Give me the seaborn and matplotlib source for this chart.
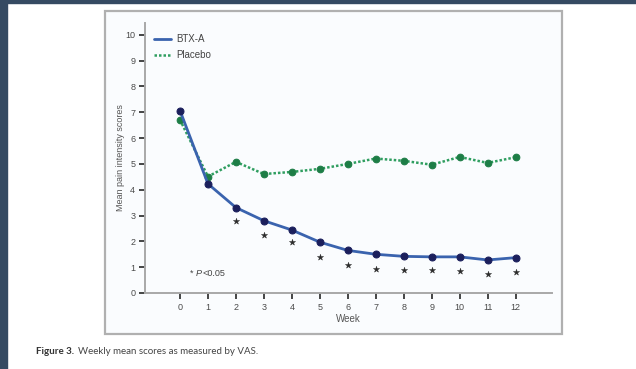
import matplotlib
matplotlib.use("Agg")
import matplotlib.pyplot as plt
from matplotlib.patches import Rectangle
from matplotlib.lines import Line2D
import seaborn as sns
import pandas as pd

weeks = [0, 1, 2, 3, 4, 5, 6, 7, 8, 9, 10, 11, 12]
btx_a = [7.07, 4.23, 3.31, 2.80, 2.44, 1.97, 1.65, 1.50, 1.42, 1.40, 1.40, 1.28, 1.37]
placebo = [6.71, 4.51, 5.08, 4.61, 4.69, 4.81, 5.00, 5.21, 5.12, 4.97, 5.27, 5.04, 5.26]
sig_weeks = [2, 3, 4, 5, 6, 7, 8, 9, 10, 11, 12]
sig_marks = [2.78, 2.23, 1.96, 1.40, 1.09, 0.92, 0.88, 0.91, 0.85, 0.73, 0.83]
y_ticks = [0, 1, 2, 3, 4, 5, 6, 7, 8, 9, 10]

sns.set_theme(style="white")
plt.rcParams["font.family"] = ["Liberation Sans", "DejaVu Sans"]

W, H = 636, 369
fig = plt.figure(figsize=(W / 100, H / 100), dpi=100)
fig.patch.set_facecolor("white")

# page border strips and the figure frame, kept behind the axes
border = "#354a62"
fig.patches.append(Rectangle((0, 0), 7 / W, 1, transform=fig.transFigure, color=border, zorder=-5))
fig.patches.append(Rectangle((0, 1 - 3 / H), 1, 3 / H, transform=fig.transFigure, color=border, zorder=-5))
fig.patches.append(Rectangle((105 / W, 1 - 334 / H), (562 - 105) / W, (334 - 11) / H,
                             transform=fig.transFigure, facecolor="#fafcfe",
                             edgecolor="#b0b0b0", linewidth=1.6, zorder=-5))

ax = fig.add_axes([145 / W, 1 - 293 / H, (552 - 145) / W, (293 - 23) / H])
ax.set_zorder(2)
ax.set_facecolor("none")

df_btx = pd.DataFrame({"Week": weeks, "Score": btx_a})
df_pla = pd.DataFrame({"Week": weeks, "Score": placebo})
df_sig = pd.DataFrame({"Week": sig_weeks, "Mark": sig_marks})

sns.lineplot(data=df_pla, x="Week", y="Score", ax=ax, color="#2f9e60", linewidth=1.8,
             linestyle=(0, (1, 0.8)), marker="o", markersize=4.8,
             markerfacecolor="#1d7d46", markeredgecolor="#1d7d46", zorder=3)
sns.lineplot(data=df_btx, x="Week", y="Score", ax=ax, color="#3a63ae", linewidth=2.0,
             marker="o", markersize=5.0, markerfacecolor="#1b1f5c",
             markeredgecolor="#1b1f5c", zorder=4)
sns.scatterplot(data=df_sig, x="Week", y="Mark", ax=ax, marker="*", s=22,
                color="#2a2a2a", edgecolor="#2a2a2a", linewidth=0.3, zorder=5)

ax.set_xlim(-1.25, 13.3)
ax.set_ylim(0, 10.46)
ax.set_xticks(weeks)
ax.set_yticks(y_ticks)
ax.tick_params(axis="both", which="major", bottom=True, left=True, direction="out",
               length=4, width=1.4, color="#444444", labelsize=6.5,
               labelcolor="#4a4a4a", pad=3)
for side in ("top", "right"):
    ax.spines[side].set_visible(False)
for side in ("left", "bottom"):
    ax.spines[side].set_color("#a8a8a8")
    ax.spines[side].set_linewidth(1.4)

ax.set_xlabel("Week", fontsize=7, color="#555555", labelpad=2)
ax.set_ylabel("Mean pain intensity scores", fontsize=6.5, color="#555555", labelpad=0)

ax.text(0.35, 0.75, "* ", fontsize=6.5, color="#444444", va="center", ha="left")
ax.text(0.55, 0.75, "P", fontsize=6.5, color="#444444", va="center", ha="left", style="italic")
ax.text(0.82, 0.75, "<0.05", fontsize=6.5, color="#444444", va="center", ha="left")

handles = [Line2D([], [], color="#3a63ae", linewidth=2.0),
           Line2D([], [], color="#2f9e60", linewidth=1.8, linestyle=(0, (1, 0.8)))]
ax.legend(handles, ["BTX-A", "Placebo"], loc="upper left", bbox_to_anchor=(0.0, 0.99),
          frameon=False, fontsize=7, handlelength=1.8, handletextpad=0.55,
          labelspacing=0.6, labelcolor="#444444")

# caption under the frame
fig.canvas.draw()
cap1 = fig.text(36 / W, 1 - 352 / H, "Figure 3.", fontsize=7, fontweight="bold",
                family=["Lato", "DejaVu Sans"], color="#333333", va="center")
r = fig.canvas.get_renderer()
bb = cap1.get_window_extent(renderer=r)
fig.text((bb.x1 + 4) / W, 1 - 352 / H, "Weekly mean scores as measured by VAS.",
         fontsize=7, family=["Lato", "DejaVu Sans"], color="#444444", va="center")

fig.savefig("out.png", dpi=100)
